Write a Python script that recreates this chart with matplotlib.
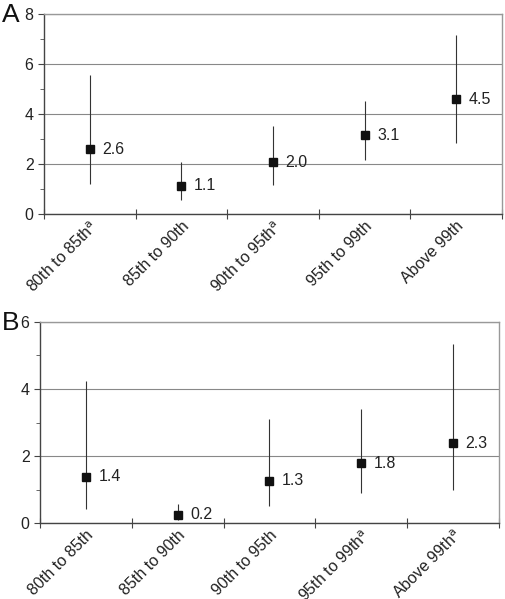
import matplotlib.pyplot as plt
import numpy as np
from matplotlib.ticker import MultipleLocator

plt.rcParams['font.family'] = ['Liberation Sans', 'DejaVu Sans']

# panel A
labels_a = ['80th to 85th$^{\\mathrm{a}}$', '85th to 90th', '90th to 95th$^{\\mathrm{a}}$',
            '95th to 99th', 'Above 99th']
est_a = [2.6, 1.1, 2.0, 3.1, 4.5]
pos_a = [2.6, 1.13, 2.07, 3.16, 4.59]   # where the markers sit
low_a = [1.2, 0.56, 1.15, 2.17, 2.83]
high_a = [5.55, 2.08, 3.53, 4.52, 7.15]

# panel B
labels_b = ['80th to 85th', '85th to 90th', '90th to 95th',
            '95th to 99th$^{\\mathrm{a}}$', 'Above 99th$^{\\mathrm{a}}$']
est_b = [1.4, 0.2, 1.3, 1.8, 2.3]
pos_b = [1.39, 0.26, 1.27, 1.79, 2.38]
low_b = [0.43, 0.1, 0.51, 0.91, 0.99]
high_b = [4.25, 0.57, 3.1, 3.4, 5.35]

fig = plt.figure(figsize=(5.05, 5.99), dpi=100)


def panel(rect, labels, est, pos, low, high, ymax, letter):
    ax = fig.add_axes(rect)
    x = np.arange(len(labels))
    pos = np.array(pos)
    yerr = [pos - np.array(low), np.array(high) - pos]
    ax.errorbar(x, pos, yerr=yerr, fmt='s', color='#111111', ecolor='#333333',
                elinewidth=0.8, markersize=6.3, capsize=0, zorder=3)
    for xi, yi, v in zip(x, pos, est):
        ax.annotate('%.1f' % v, (xi, yi), xytext=(9, 0), textcoords='offset points',
                    ha='left', va='center', fontsize=11.5, color='#222222')
    ax.set_xlim(-0.5, len(labels) - 0.5)
    ax.set_ylim(0, ymax)
    ax.yaxis.set_major_locator(MultipleLocator(2))
    ax.yaxis.set_minor_locator(MultipleLocator(1))
    ax.set_xticks(np.arange(len(labels) + 1) - 0.5)
    ax.set_xticklabels([])
    ax.set_xticks(x, minor=True)
    ax.set_xticklabels(labels, minor=True, rotation=45, ha='right',
                       rotation_mode='anchor', fontsize=11.5, color='#222222')
    ax.tick_params(axis='x', which='major', direction='inout', length=7, width=0.8,
                   color='#444444')
    ax.tick_params(axis='x', which='minor', length=0, pad=3)
    ax.tick_params(axis='y', which='major', direction='out', length=4, width=0.8,
                   color='#444444', labelsize=11.5, labelcolor='#222222')
    ax.tick_params(axis='y', which='minor', direction='out', length=3, width=0.7,
                   color='#666666')
    ax.grid(axis='y', which='major', color='#888888', linewidth=0.8)
    ax.set_axisbelow(True)
    for s in ['left', 'bottom']:
        ax.spines[s].set_color('#444444')
        ax.spines[s].set_linewidth(1.0)
    for s in ['top', 'right']:
        ax.spines[s].set_color('#999999')
        ax.spines[s].set_linewidth(1.0)
    fig.text(0.003, rect[1] + rect[3] - 0.002, letter, fontsize=19,
             ha='left', va='center', color='#111111')
    return ax


panel([0.0871, 0.6427, 0.9069, 0.3339], labels_a, est_a, pos_a, low_a, high_a, 8, 'A')
panel([0.0792, 0.1264, 0.9089, 0.3365], labels_b, est_b, pos_b, low_b, high_b, 6, 'B')

fig.savefig('out.png', dpi=100)
